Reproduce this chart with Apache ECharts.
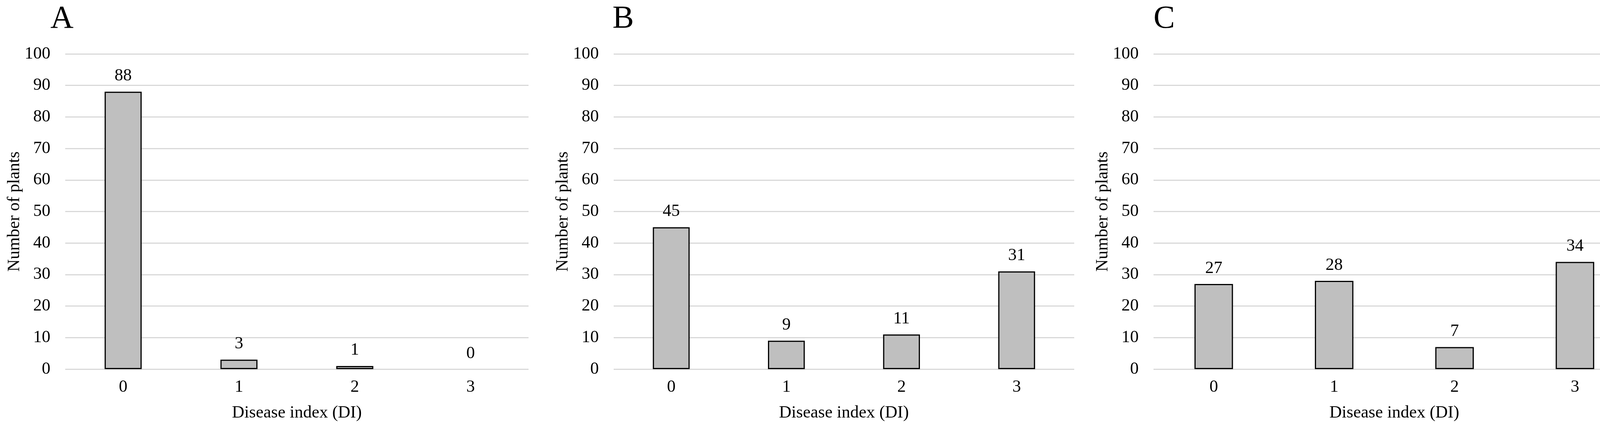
<!DOCTYPE html>
<html>
<head>
<meta charset="utf-8">
<script src="https://cdn.jsdelivr.net/npm/echarts@6/dist/echarts.min.js"></script>
<style>
html,body{margin:0;padding:0;background:#fff;}
#chart{width:4210px;height:1106px;}
</style>
</head>
<body>
<div id="chart"></div>
<script>
const categories = ['0', '1', '2', '3'];
const panelLetters = ['A', 'B', 'C'];
const valuesA = [88, 3, 1, 0];
const valuesB = [45, 9, 11, 31];
const valuesC = [27, 28, 7, 34];
const yTicks = { min: 0, max: 100, interval: 10 };
const xTitle = 'Disease index (DI)';
const yTitle = 'Number of plants';

const panels = [valuesA, valuesB, valuesC];
const gridLefts = [167, 1571, 2953];
const gridWidths = [1186, 1179, 1233];
const letterLefts = [129, 1568, 2953];
const FONT = '"Liberation Serif", "Times New Roman", serif';

const chart = echarts.init(document.getElementById('chart'), null, { renderer: 'canvas' });

const option = {
  backgroundColor: '#ffffff',
  animation: false,
  title: panelLetters.map((t, i) => ({
    text: t,
    left: letterLefts[i],
    top: 8,
    padding: 0,
    textStyle: { fontFamily: FONT, fontSize: 82, fontWeight: 'normal', color: '#000' }
  })),
  grid: panels.map((_, i) => ({
    left: gridLefts[i], width: gridWidths[i], top: 138, bottom: 161, containLabel: false
  })),
  xAxis: panels.map((_, i) => ({
    type: 'category',
    gridIndex: i,
    data: categories,
    name: xTitle,
    nameLocation: 'middle',
    nameGap: 90,
    nameTextStyle: { fontFamily: FONT, fontSize: 44, color: '#000' },
    axisLine: { show: false },
    axisTick: { show: false },
    axisLabel: { fontFamily: FONT, fontSize: 44, color: '#000', margin: 24 },
    splitLine: { show: false }
  })),
  yAxis: panels.map((_, i) => ({
    type: 'value',
    gridIndex: i,
    min: yTicks.min, max: yTicks.max, interval: yTicks.interval,
    name: yTitle,
    nameLocation: 'middle',
    nameGap: 108,
    nameRotate: 90,
    nameTextStyle: { fontFamily: FONT, fontSize: 44, color: '#000' },
    axisLine: { show: false },
    axisTick: { show: false },
    axisLabel: { fontFamily: FONT, fontSize: 44, color: '#000', margin: 38 },
    splitLine: { show: true, lineStyle: { color: '#D9D9D9', width: 3 } }
  })),
  series: panels.map((vals, i) => ({
    type: 'bar',
    xAxisIndex: i,
    yAxisIndex: i,
    barWidth: '32%',
    data: vals.map(v => v === 0 ? { value: v, itemStyle: { borderWidth: 0 } } : v),
    itemStyle: { color: '#BFBFBF', borderColor: '#000', borderWidth: 3 },
    label: {
      show: true, position: 'top', distance: 18,
      fontFamily: FONT, fontSize: 44, color: '#000'
    }
  }))
};
chart.setOption(option);
</script>
</body>
</html>
